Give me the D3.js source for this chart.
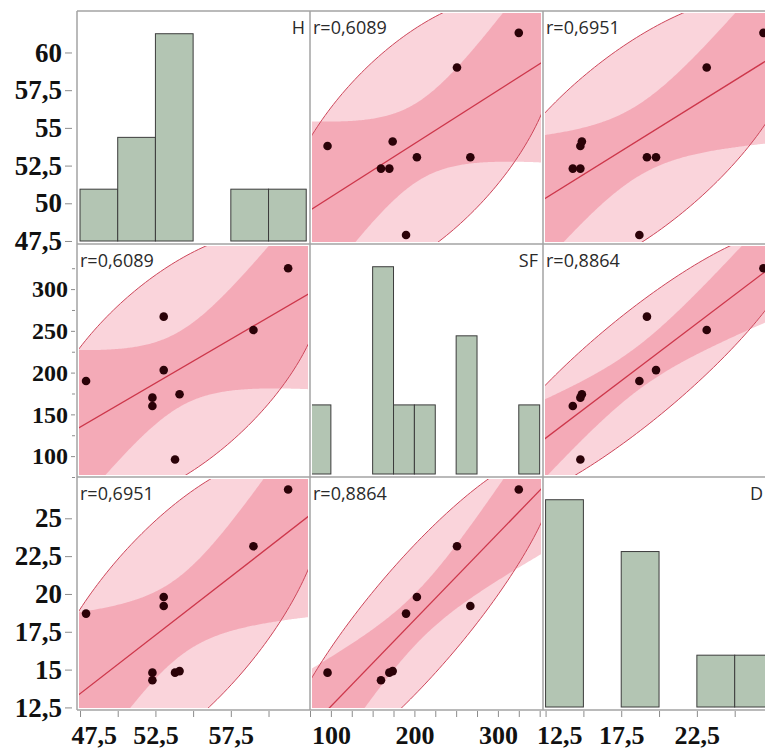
<!DOCTYPE html>
<html>
<head>
<meta charset="utf-8">
<script src="https://cdn.jsdelivr.net/npm/d3@7"></script>
<style>
  body { margin: 0; background: #fff; }
  svg { display: block; }
</style>
</head>
<body>
<div id="chart"></div>
<script>
const varNames = ["H", "SF", "D"];
const hValues = [53.8, 54.1, 52.3, 52.3, 53.05, 59.0, 53.05, 61.3, 47.9];
const sfValues = [96, 174, 160, 170, 203, 251, 267, 325, 190];
const dValues = [14.8, 14.9, 14.3, 14.8, 19.8, 23.15, 19.2, 26.9, 18.7];

// correlation labels shown in the off-diagonal panels
const corrLabels = [
  ["", "r=0,6089", "r=0,6951"],
  ["r=0,6089", "", "r=0,8864"],
  ["r=0,6951", "r=0,8864", ""],
];

// axis ranges and histogram bins
const domains = [[47.3, 62.75], [75, 354], [12.33, 27.73]];
const binSpecs = [[47.5, 62.5, 2.5], [75, 350, 25], [12.5, 27.5, 2.5]];

const yTicks = [
  [47.5, 50, 52.5, 55, 57.5, 60],
  [100, 150, 200, 250, 300],
  [12.5, 15, 17.5, 20, 22.5, 25],
];
const yMinorTicks = [[], [75, 125, 175, 225, 275, 325], []];
const xTicks = [
  [47.5, 50, 52.5, 55, 57.5, 60],
  [75, 100, 125, 150, 175, 200, 225, 250, 275, 300, 325, 350],
  [12.5, 15, 17.5, 20, 22.5, 25, 27.5],
];
const xLabels = [[47.5, 52.5, 57.5], [100, 200, 300], [12.5, 17.5, 22.5]];

const gridLeft = 77;
const gridTop = 11;
const cell = 233;
const pageWidth = 765;
const chi2_95 = 5.991; // 2 df
const t975 = 2.3646; // 7 df

const vars = [hValues, sfValues, dValues];
const fmt = (d) => String(d).replace(".", ",");

const svg = d3
  .select("#chart")
  .append("svg")
  .attr("width", pageWidth)
  .attr("height", 751);

const xScales = domains.map((dom, j) =>
  d3.scaleLinear().domain(dom).range([gridLeft + j * cell, gridLeft + (j + 1) * cell])
);
const yScales = domains.map((dom, i) =>
  d3.scaleLinear().domain(dom).range([gridTop + (i + 1) * cell, gridTop + i * cell])
);

function stats(xv, yv) {
  const n = xv.length;
  const mx = d3.mean(xv);
  const my = d3.mean(yv);
  const sxx = d3.sum(xv, (v) => (v - mx) ** 2);
  const syy = d3.sum(yv, (v) => (v - my) ** 2);
  const sxy = d3.sum(xv, (v, k) => (v - mx) * (yv[k] - my));
  const b = sxy / sxx;
  const a = my - b * mx;
  const s = Math.sqrt((syy - b * sxy) / (n - 2));
  return { n, mx, my, sxx, syy, sxy, a, b, s };
}

function drawHistogram(g, k, x0, y0) {
  const x = xScales[k];
  const [lo, hi, w] = binSpecs[k];
  const bins = d3
    .bin()
    .domain([lo, hi])
    .thresholds(d3.range(lo, hi + w / 2, w))(vars[k]);
  const y = d3
    .scaleLinear()
    .domain([0, d3.max(bins, (b) => b.length) * 1.1])
    .range([y0 + cell - 3, y0 + 2]);

  g.selectAll("rect.bar")
    .data(bins.filter((b) => b.length > 0))
    .enter()
    .append("rect")
    .attr("class", "bar")
    .attr("x", (b) => x(b.x0))
    .attr("y", (b) => y(b.length))
    .attr("width", (b) => x(b.x1) - x(b.x0))
    .attr("height", (b) => y(0) - y(b.length))
    .style("fill", "#b3c5b3")
    .style("stroke", "#3c3c3c")
    .style("stroke-width", 1);

  // keep the name inside the page when the panel runs past it
  g.append("text")
    .attr("x", Math.min(x0 + cell - 5, pageWidth - 2))
    .attr("y", y0 + 23)
    .attr("text-anchor", "end")
    .style("font-family", "'Open Sans', sans-serif")
    .style("font-size", "18px")
    .style("fill", "#2a2a2a")
    .text(varNames[k]);
}

function drawScatter(g, i, j, x0, y0) {
  const xv = vars[j];
  const yv = vars[i];
  const x = xScales[j];
  const y = yScales[i];
  const st = stats(xv, yv);
  const n1 = st.n - 1;

  // 95% density ellipse from the sample covariance
  const l11 = Math.sqrt(st.sxx / n1);
  const l21 = st.sxy / n1 / l11;
  const l22 = Math.sqrt(st.syy / n1 - l21 * l21);
  const c = Math.sqrt(chi2_95);
  const ellipse = d3.range(0, 2 * Math.PI + 0.001, Math.PI / 120).map((t) => {
    const u = c * Math.cos(t);
    const v = c * Math.sin(t);
    return [x(st.mx + l11 * u), y(st.my + l21 * u + l22 * v)];
  });
  const line = d3.line();

  g.append("path")
    .attr("d", line(ellipse) + "Z")
    .style("fill", "rgb(230,60,90)")
    .style("fill-opacity", 0.22)
    .style("stroke", "none");

  // confidence band of the fitted mean
  const [d0, d1] = x.domain();
  const xs = d3.range(0, 201).map((k) => d0 + ((d1 - d0) * k) / 200);
  const half = (xx) =>
    t975 * st.s * Math.sqrt(1 / st.n + (xx - st.mx) ** 2 / st.sxx);
  const band = d3
    .area()
    .x((xx) => x(xx))
    .y0((xx) => y(st.a + st.b * xx - half(xx)))
    .y1((xx) => y(st.a + st.b * xx + half(xx)));

  g.append("path")
    .attr("d", band(xs))
    .style("fill", "rgb(230,60,90)")
    .style("fill-opacity", 0.27)
    .style("stroke", "none");

  g.append("path")
    .attr("d", line(ellipse) + "Z")
    .style("fill", "none")
    .style("stroke", "rgb(205,70,90)")
    .style("stroke-width", 1);

  g.append("line")
    .attr("x1", x(d0))
    .attr("y1", y(st.a + st.b * d0))
    .attr("x2", x(d1))
    .attr("y2", y(st.a + st.b * d1))
    .style("stroke", "rgb(205,55,75)")
    .style("stroke-width", 1.3);

  g.selectAll("circle")
    .data(xv.map((v, k) => [v, yv[k]]))
    .enter()
    .append("circle")
    .attr("cx", (d) => x(d[0]))
    .attr("cy", (d) => y(d[1]))
    .attr("r", 4.3)
    .style("fill", "#2b0208");

  g.append("text")
    .attr("x", x0 + 3)
    .attr("y", y0 + 23)
    .style("font-family", "'Open Sans', sans-serif")
    .style("font-size", "18px")
    .style("fill", "#2a2a2a")
    .text(corrLabels[i][j]);
}

for (let i = 0; i < 3; i++) {
  for (let j = 0; j < 3; j++) {
    const x0 = gridLeft + j * cell;
    const y0 = gridTop + i * cell;
    const id = `clip-${i}-${j}`;
    svg
      .append("clipPath")
      .attr("id", id)
      .append("rect")
      .attr("x", x0 + 2)
      .attr("y", y0 + 2)
      .attr("width", cell - 4)
      .attr("height", cell - 4);
    const g = svg.append("g").attr("clip-path", `url(#${id})`);
    if (i === j) drawHistogram(g, i, x0, y0);
    else drawScatter(g, i, j, x0, y0);
  }
}

// panel frame
const grid = svg.append("g");
d3.range(4).forEach((k) => {
  grid
    .append("line")
    .attr("x1", gridLeft + k * cell)
    .attr("x2", gridLeft + k * cell)
    .attr("y1", gridTop)
    .attr("y2", gridTop + 3 * cell);
  grid
    .append("line")
    .attr("x1", gridLeft)
    .attr("x2", gridLeft + 3 * cell)
    .attr("y1", gridTop + k * cell)
    .attr("y2", gridTop + k * cell);
});
grid.selectAll("line").style("stroke", "#a3a3a3").style("stroke-width", 1.5);

// left axes
const rowFont = [27, 24, 27];
yScales.forEach((y, i) => {
  const big = i !== 1;
  const ax = svg
    .append("g")
    .attr("transform", `translate(${big ? 72 : 75},0)`)
    .call(
      d3
        .axisLeft(y)
        .tickValues(yTicks[i])
        .tickSize(big ? 7 : 4)
        .tickPadding(3)
        .tickFormat(fmt)
    );
  ax.select(".domain").remove();
  ax.selectAll(".tick line").style("stroke", "#8c8c8c");
  ax.selectAll(".tick text")
    .style("font-family", "'Liberation Serif', serif")
    .style("font-weight", "bold")
    .style("font-size", rowFont[i] + "px")
    .style("fill", "#111");

  if (yMinorTicks[i].length) {
    const mn = svg
      .append("g")
      .attr("transform", "translate(75,0)")
      .call(d3.axisLeft(y).tickValues(yMinorTicks[i]).tickSize(3).tickFormat(""));
    mn.select(".domain").remove();
    mn.selectAll(".tick line").style("stroke", "#8c8c8c");
  }
});

// bottom axes
xScales.forEach((x, j) => {
  const ax = svg
    .append("g")
    .attr("transform", `translate(0,${gridTop + 3 * cell + 1})`)
    .call(
      d3
        .axisBottom(x)
        .tickValues(xTicks[j])
        .tickSize(6)
        .tickPadding(9)
        .tickFormat((d) => (xLabels[j].includes(d) ? fmt(d) : ""))
    );
  ax.select(".domain").remove();
  ax.selectAll(".tick line").style("stroke", "#8c8c8c");
  ax.selectAll(".tick text")
    .style("font-family", "'Liberation Serif', serif")
    .style("font-weight", "bold")
    .style("font-size", "26px")
    .style("fill", "#111");
  if (j !== 1) {
    ax.selectAll(".tick text")
      .filter((d) => d === xLabels[j][0])
      .attr("text-anchor", "start")
      .attr("dx", -9);
  }
});
</script>
</body>
</html>
